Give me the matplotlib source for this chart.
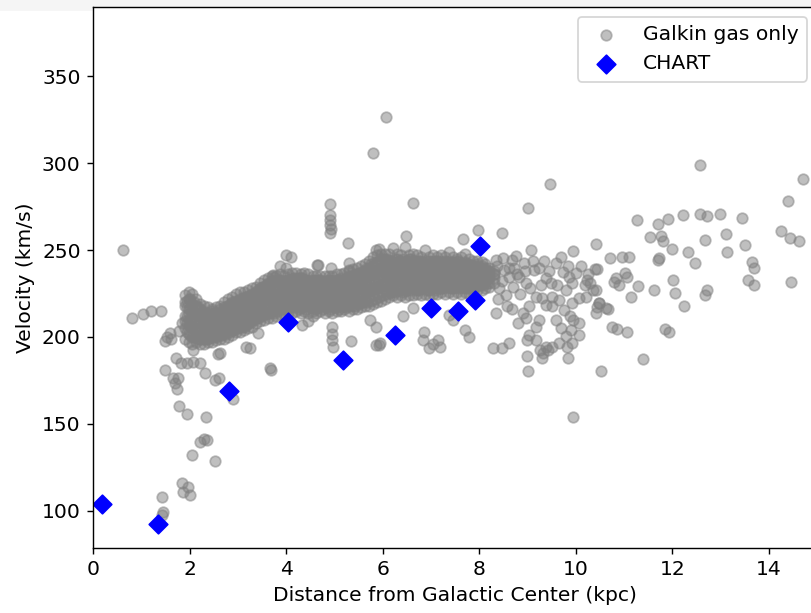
import matplotlib
matplotlib.use("Agg")
import matplotlib.pyplot as plt
from matplotlib.patches import Rectangle

# dense band of gas points, one column of velocities per radius
band_r = [1.90, 1.98, 2.06, 2.14, 2.22, 2.31, 2.39, 2.47, 2.55, 2.63,
          2.72, 2.80, 2.88, 2.96, 3.05, 3.13, 3.21, 3.30, 3.38, 3.46,
          3.55, 3.63, 3.71, 3.80, 3.88, 3.96, 4.05, 4.13, 4.21, 4.30,
          4.38, 4.46, 4.55, 4.63, 4.71, 4.80, 4.88, 4.96, 5.05, 5.13,
          5.21, 5.30, 5.38, 5.46, 5.55, 5.63, 5.71, 5.80, 5.88, 5.96,
          6.05, 6.13, 6.21, 6.30, 6.38, 6.46, 6.55, 6.63, 6.71, 6.80,
          6.88, 6.96, 7.05, 7.13, 7.21, 7.30, 7.38, 7.46, 7.55, 7.63,
          7.71, 7.80, 7.88, 7.96, 8.05, 8.13, 8.21, 8.30]
band_v = [
    [199, 205, 209, 212, 218, 220, 224],
    [197, 202, 207, 213, 216, 222, 226],
    [196, 200, 206, 211, 215, 219, 225],
    [197, 201, 204, 209, 214, 218, 222],
    [196, 199, 205, 208, 213, 216, 219],
    [196, 200, 203, 207, 211, 214, 218],
    [197, 199, 204, 206, 210, 213, 217],
    [197, 201, 203, 208, 211, 215, 216],
    [198, 200, 205, 207, 212, 214, 217],
    [199, 202, 204, 209, 212, 216, 218],
    [199, 203, 206, 209, 213, 217, 220],
    [200, 204, 207, 211, 215, 218, 222],
    [201, 204, 209, 212, 216, 220, 223],
    [203, 206, 209, 214, 217, 221, 225],
    [203, 207, 210, 215, 218, 222, 226],
    [204, 206, 212, 214, 219, 223, 226],
    [205, 208, 211, 216, 220, 223, 227],
    [206, 210, 214, 217, 221, 225, 228],
    [208, 211, 215, 219, 222, 226, 229],
    [209, 213, 216, 220, 224, 228, 231],
    [210, 214, 217, 222, 226, 229, 233],
    [211, 214, 219, 223, 227, 231, 234],
    [211, 215, 220, 224, 228, 232, 235],
    [212, 216, 221, 224, 229, 232, 235],
    [213, 217, 220, 225, 228, 233, 236],
    [213, 218, 222, 226, 229, 232, 235],
    [214, 217, 221, 226, 230, 233, 236],
    [214, 219, 223, 225, 230, 234, 237],
    [215, 218, 222, 227, 231, 233, 237],
    [214, 217, 223, 226, 229, 234, 236],
    [215, 219, 221, 227, 230, 233, 237],
    [214, 218, 223, 225, 231, 232, 236],
    [215, 217, 222, 226, 229, 233, 235],
    [214, 219, 221, 227, 230, 232, 235],
    [215, 218, 223, 225, 229, 233, 235],
    [214, 217, 222, 226, 230, 231, 235],
    [215, 219, 221, 227, 228, 233, 235],
    [214, 218, 223, 225, 230, 232, 235],
    [215, 217, 222, 226, 229, 233, 236],
    [215, 219, 221, 227, 230, 234, 236],
    [216, 218, 223, 226, 231, 233, 237],
    [215, 219, 224, 227, 230, 235, 238],
    [216, 220, 223, 228, 232, 235, 239],
    [216, 221, 225, 228, 233, 236, 240],
    [217, 220, 226, 229, 232, 237, 241],
    [218, 222, 225, 231, 234, 238, 242],
    [218, 223, 227, 231, 236, 240, 244],
    [219, 224, 228, 233, 237, 241, 246],
    [220, 225, 229, 234, 238, 243, 247],
    [221, 226, 230, 235, 240, 244, 248],
    [222, 227, 231, 236, 239, 245, 248],
    [223, 226, 232, 235, 241, 244, 248],
    [224, 228, 231, 237, 240, 243, 251],
    [223, 227, 233, 236, 239, 245, 248],
    [224, 229, 232, 235, 241, 244, 247],
    [223, 227, 231, 237, 240, 243, 252],
    [224, 228, 233, 236, 239, 245, 247],
    [224, 229, 232, 237, 241, 244, 248],
    [225, 227, 231, 235, 240, 243, 247],
    [224, 228, 233, 237, 239, 244, 246],
    [225, 229, 232, 236, 241, 242, 250],
    [224, 227, 231, 235, 239, 244, 246],
    [225, 228, 233, 237, 240, 243, 247],
    [225, 229, 232, 236, 241, 244, 246],
    [226, 228, 234, 237, 239, 243, 247],
    [225, 230, 233, 236, 240, 244, 246],
    [226, 229, 232, 237, 241, 242, 249],
    [225, 228, 234, 235, 239, 243, 246],
    [226, 230, 233, 237, 240, 244, 245],
    [225, 229, 232, 236, 241, 242, 246],
    [226, 228, 233, 235, 239, 243, 248],
    [225, 230, 232, 237, 240, 242, 245],
    [226, 229, 234, 236, 239, 241, 244],
    [227, 230, 232, 236, 240, 242, 244],
    [227, 231, 234, 235, 239, 241, 243],
    [228, 232, 233, 237, 238, 240, 242],
    [229, 231, 234, 236, 238, 240],
    [231, 234, 236, 238],
]

# second, offset set of columns filling the core of the band
core_r = [1.94, 2.02, 2.10, 2.18, 2.27, 2.35, 2.43, 2.51, 2.59, 2.68,
          2.76, 2.84, 2.92, 3.01, 3.09, 3.17, 3.26, 3.34, 3.42, 3.51,
          3.59, 3.67, 3.76, 3.84, 3.92, 4.01, 4.09, 4.17, 4.26, 4.34,
          4.42, 4.51, 4.59, 4.67, 4.76, 4.84, 4.92, 5.01, 5.09, 5.17,
          5.26, 5.34, 5.42, 5.51, 5.59, 5.67, 5.76, 5.84, 5.92, 6.01,
          6.09, 6.17, 6.26, 6.34, 6.42, 6.51, 6.59, 6.67, 6.76, 6.84,
          6.92, 7.01, 7.09, 7.17, 7.26, 7.34, 7.42, 7.51, 7.59, 7.67,
          7.76, 7.84, 7.92, 8.01, 8.09, 8.17]
core_v = [
    [203, 208, 212, 217, 221], [201, 206, 211, 216, 222], [200, 205, 210, 214, 220],
    [199, 204, 208, 212, 217], [199, 202, 207, 211, 215], [199, 203, 206, 210, 214],
    [200, 202, 207, 209, 213], [200, 204, 206, 210, 214], [201, 203, 208, 211, 213],
    [201, 205, 208, 212, 215], [202, 206, 210, 213, 217], [203, 208, 211, 214, 219],
    [204, 207, 213, 216, 220], [205, 209, 212, 217, 221], [206, 210, 214, 218, 222],
    [207, 211, 215, 219, 223], [208, 212, 217, 220, 224], [210, 214, 218, 222, 225],
    [211, 215, 219, 223, 227], [212, 217, 221, 225, 229], [213, 218, 222, 226, 230],
    [214, 219, 223, 227, 231], [214, 219, 224, 228, 232], [215, 220, 224, 229, 232],
    [216, 221, 225, 228, 232], [216, 220, 224, 229, 232], [217, 221, 226, 229, 233],
    [217, 222, 225, 230, 234], [216, 221, 226, 231, 234], [217, 222, 226, 229, 234],
    [216, 221, 225, 230, 233], [217, 220, 226, 228, 232], [216, 222, 224, 229, 232],
    [217, 221, 225, 228, 233], [216, 220, 226, 229, 232], [217, 222, 224, 230, 232],
    [216, 221, 225, 228, 233], [217, 220, 226, 229, 232], [216, 222, 224, 230, 233],
    [218, 221, 226, 229, 233], [217, 222, 227, 230, 234], [218, 223, 226, 231, 235],
    [218, 222, 228, 232, 236], [219, 224, 228, 233, 237], [220, 225, 229, 234, 238],
    [220, 226, 230, 235, 240], [221, 227, 232, 236, 242], [222, 228, 233, 238, 243],
    [223, 229, 234, 239, 244], [224, 230, 235, 240, 245], [225, 230, 236, 240, 245],
    [226, 231, 235, 241, 244], [226, 232, 236, 240, 245], [227, 231, 237, 241, 244],
    [226, 232, 235, 240, 245], [227, 231, 236, 241, 244], [227, 232, 237, 240, 245],
    [228, 231, 236, 241, 244], [227, 233, 235, 240, 244], [228, 232, 237, 239, 243],
    [227, 231, 236, 241, 244], [228, 233, 235, 240, 243], [227, 232, 237, 239, 244],
    [228, 231, 236, 241, 243], [228, 233, 235, 240, 243], [229, 232, 237, 239, 243],
    [228, 231, 236, 240, 243], [229, 233, 235, 239, 242], [228, 232, 237, 240, 243],
    [229, 231, 236, 239, 242], [228, 233, 235, 240, 242], [229, 232, 236, 238, 241],
    [229, 231, 235, 239, 241], [230, 233, 236, 238, 240], [230, 232, 235, 237, 239],
    [231, 234, 236, 238],
]

# scattered gas points inside ~3 kpc
inner_pts = [(0.63, 250.2), (0.81, 211.2), (1.04, 213.3), (1.21, 215.0), (1.41, 215.0),
             (1.49, 197.8), (1.59, 202.5), (1.54, 200.2), (1.62, 199.0), (1.78, 203.5),
             (1.85, 208.0), (1.72, 187.8), (1.83, 184.9), (1.94, 184.9), (2.07, 185.8),
             (2.21, 184.9), (1.49, 181.0), (1.66, 176.3), (1.76, 176.6), (1.69, 173.4),
             (1.73, 170.0), (2.32, 179.5), (2.52, 175.3), (2.61, 176.6), (1.79, 160.5),
             (1.94, 155.5), (2.35, 153.8), (2.90, 164.2), (2.21, 139.7), (2.29, 141.1),
             (2.36, 140.7), (2.05, 132.1), (2.52, 128.6), (1.85, 115.8), (1.97, 113.8),
             (1.87, 110.9), (2.01, 109.0), (1.42, 108.1), (1.45, 99.4), (1.42, 97.5),
             (2.59, 190.3), (2.07, 192.6), (2.63, 190.7)]

# outliers around the band, 3-8.3 kpc
mid_pts = [(3.66, 182.0), (3.68, 181.2), (3.25, 193.5), (3.18, 194.5), (3.42, 202.2),
           (4.90, 276.5), (4.90, 270.3), (4.91, 267.4), (4.90, 264.6), (4.91, 260.1),
           (4.93, 262.0), (5.28, 254.4), (5.80, 305.9), (6.08, 326.7), (5.87, 250.2),
           (4.11, 246.3), (4.00, 247.3), (3.76, 234.8), (3.87, 240.6), (4.00, 239.6),
           (3.73, 235.8), (4.97, 194.5), (4.96, 198.5), (4.95, 202.0), (4.95, 206.0),
           (5.35, 197.9), (5.87, 195.4), (5.87, 206.0), (5.73, 209.8), (4.56, 211.8),
           (4.32, 207.0), (4.45, 209.0), (5.30, 242.5), (5.31, 238.7), (4.64, 241.5),
           (4.93, 239.6), (4.66, 241.5), (6.64, 277.4), (7.97, 261.7), (8.48, 260.1),
           (6.49, 258.2), (7.67, 256.3), (5.93, 250.6), (6.86, 203.1), (6.83, 198.3),
           (6.97, 193.5), (7.14, 198.3), (7.18, 194.5), (7.05, 196.0), (7.71, 204.1),
           (7.78, 199.9), (6.43, 211.8), (5.93, 195.4), (5.95, 196.5), (7.38, 212.7),
           (7.45, 210.0), (6.62, 216.5), (8.28, 193.5), (8.48, 193.5), (8.62, 196.4)]

# looser cloud beyond the solar circle, 8.3-10.7 kpc
outer_pts = [(8.35, 244.4), (8.50, 245.4), (8.69, 244.4), (8.76, 246.4), (8.92, 242.5),
             (8.73, 239.6), (8.52, 238.7), (8.62, 234.8), (8.83, 234.8), (8.97, 231.0),
             (9.14, 238.7), (9.24, 239.6), (9.38, 233.9), (9.48, 231.0), (9.59, 242.5),
             (9.73, 237.7), (9.86, 234.8), (9.92, 231.0), (9.79, 227.2), (9.52, 223.3),
             (9.31, 222.4), (9.17, 223.3), (9.04, 217.6), (8.90, 213.7), (8.80, 208.0),
             (8.97, 210.8), (9.38, 218.5), (9.52, 217.6), (9.66, 221.4), (9.76, 215.6),
             (9.93, 219.5), (10.07, 222.4), (10.21, 223.3), (10.35, 227.2), (10.48, 219.5),
             (10.62, 216.6), (9.95, 209.9), (10.07, 208.0), (9.90, 204.1), (9.79, 200.3),
             (9.66, 196.4), (9.52, 194.5), (9.38, 194.5), (9.17, 198.4), (9.27, 192.6),
             (9.31, 187.8), (8.99, 198.4), (9.04, 201.2), (9.17, 206.0), (9.82, 194.5),
             (9.93, 196.4), (10.07, 201.2), (8.30, 236.0), (8.38, 241.0), (8.42, 228.0),
             (8.48, 232.0), (8.55, 224.0), (8.62, 240.0), (8.70, 229.0), (8.78, 236.0),
             (8.85, 225.0), (8.40, 222.0), (8.58, 218.0), (8.34, 214.0), (8.68, 216.0),
             (8.95, 238.0), (9.05, 228.0), (9.12, 244.0), (9.28, 230.0), (9.35, 244.0),
             (9.45, 238.0), (9.62, 230.0), (9.70, 246.0), (9.84, 241.0), (10.00, 237.0),
             (10.12, 241.0), (10.25, 236.0), (10.20, 230.0), (10.40, 239.0), (9.42, 192.6),
             (9.32, 190.7), (9.02, 180.6), (8.99, 189.1), (9.85, 188.0), (9.70, 205.0),
             (9.88, 212.0), (9.60, 210.0), (9.25, 210.0), (9.95, 249.6), (10.42, 253.4),
             (9.07, 250.2), (10.45, 239.2), (10.42, 227.1), (10.48, 219.5), (10.66, 216.0),
             (10.42, 213.7), (10.45, 217.5), (10.24, 232.9), (10.29, 231.0), (10.52, 180.5),
             (9.95, 153.8), (9.46, 288.0), (9.02, 274.0)]

# sparse points at large radius
far_pts = [(12.57, 299.1), (14.70, 290.9), (14.40, 278.4), (11.28, 267.4), (11.71, 265.0),
           (11.92, 267.8), (12.22, 270.1), (12.57, 270.7), (12.72, 269.4), (12.99, 270.7),
           (13.45, 268.4), (11.54, 257.8), (11.76, 258.2), (11.81, 255.0), (12.00, 250.6),
           (12.33, 248.9), (12.47, 242.5), (12.67, 256.0), (13.12, 259.2), (13.14, 249.2),
           (13.50, 253.0), (14.26, 261.0), (14.45, 256.9), (14.63, 255.5), (13.65, 242.9),
           (13.69, 239.6), (13.57, 232.9), (13.69, 230.0), (14.47, 231.9), (11.71, 244.4),
           (11.72, 245.4), (12.02, 232.9), (12.05, 225.2), (12.25, 217.9), (12.72, 227.1),
           (12.67, 224.3), (11.63, 227.1), (11.85, 204.5), (11.93, 203.1), (11.39, 187.2),
           (10.76, 206.0), (10.86, 204.5), (11.06, 203.1), (10.71, 245.4), (10.97, 246.3),
           (11.10, 246.0), (11.03, 236.8), (11.07, 234.8), (10.84, 233.9), (10.90, 230.0),
           (10.79, 231.9), (11.30, 229.6), (11.14, 222.9)]

chart_r = [0.19, 1.34, 2.81, 4.04, 5.18, 6.26, 7.00, 7.57, 7.92, 8.02]
chart_v = [103.9, 92.2, 169.1, 208.5, 186.8, 201.0, 216.8, 215.0, 221.4, 252.1]


def build_gas():
    r, v = [], []
    for cols_r, cols_v in ((band_r, band_v), (core_r, core_v)):
        for x, ys in zip(cols_r, cols_v):
            r += [x] * len(ys)
            v += ys
    for pts in (inner_pts, mid_pts, outer_pts, far_pts):
        for x, y in pts:
            r.append(x)
            v.append(y)
    return r, v


def main():
    gas_r, gas_v = build_gas()

    plt.rcParams['font.size'] = 11.5

    fig = plt.figure(figsize=(811 / 127, 613 / 127), dpi=127)
    # light strip at the top of the screenshot
    fig.patches.append(Rectangle((0, 1 - 10 / 613), 1, 10 / 613, transform=fig.transFigure,
                                 color='#f5f5f5', zorder=-1))
    ax = fig.add_axes([93 / 811, 65 / 613, 724 / 811, 541 / 613])

    ax.scatter(gas_r, gas_v, color='gray', alpha=0.5, label='Galkin gas only')
    ax.scatter(chart_r, chart_v, color='blue', marker='D', s=55, label='CHART')

    ax.set_xlim(0, 15)
    ax.set_ylim(78.5, 390)
    ax.set_xlabel('Distance from Galactic Center (kpc)')
    ax.set_ylabel('Velocity (km/s)')
    ax.legend(loc='upper right')

    fig.savefig('out.png', dpi=127)


if __name__ == "__main__":
    main()
